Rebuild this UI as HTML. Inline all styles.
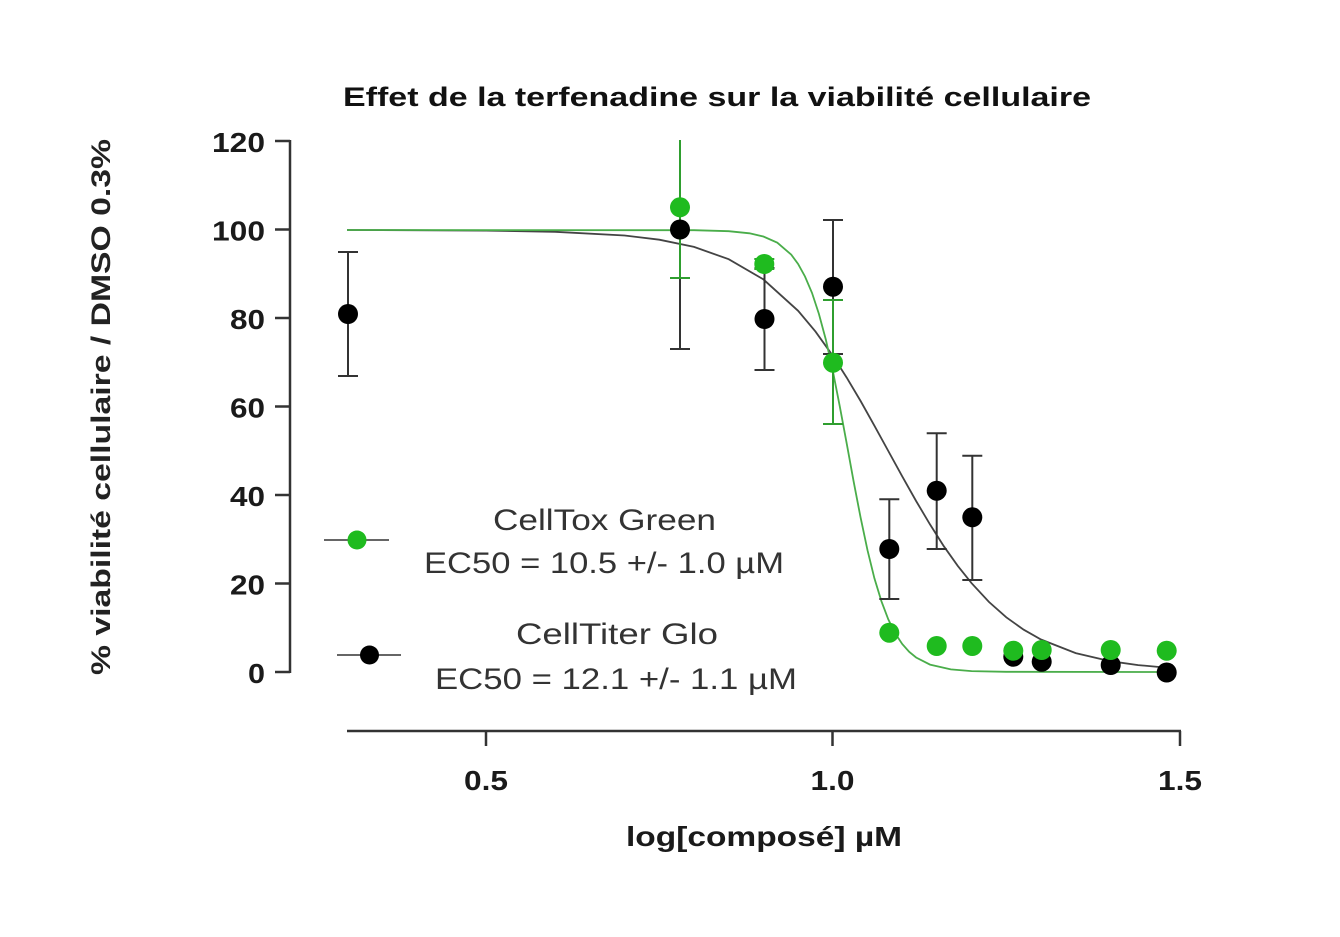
<!DOCTYPE html>
<html>
<head>
<meta charset="utf-8">
<style>
html,body{margin:0;padding:0;background:#fff;}
svg{display:block;}
text{font-family:"Liberation Sans",sans-serif;}
</style>
</head>
<body>
<svg width="1340" height="937" viewBox="0 0 1340 937" xmlns="http://www.w3.org/2000/svg">
<rect width="1340" height="937" fill="#fff"/>

<!-- Title -->
<text x="717" y="106" font-size="27" font-weight="bold" fill="#111" text-anchor="middle" textLength="748" lengthAdjust="spacingAndGlyphs">Effet de la terfenadine sur la viabilité cellulaire</text>

<!-- Y axis label -->
<text transform="translate(110,407) rotate(-90)" x="0" y="0" font-size="27" font-weight="bold" fill="#222" text-anchor="middle" textLength="536" lengthAdjust="spacingAndGlyphs">% viabilité cellulaire / DMSO 0.3%</text>

<!-- Y axis -->
<g stroke="#333" stroke-width="2.5" fill="none">
<line x1="290" y1="140" x2="290" y2="673"/>
<line x1="275" y1="141" x2="290" y2="141"/>
<line x1="275" y1="229.5" x2="290" y2="229.5"/>
<line x1="275" y1="318" x2="290" y2="318"/>
<line x1="275" y1="406.5" x2="290" y2="406.5"/>
<line x1="275" y1="495" x2="290" y2="495"/>
<line x1="275" y1="583.5" x2="290" y2="583.5"/>
<line x1="275" y1="672" x2="290" y2="672"/>
</g>
<g font-size="28" font-weight="bold" fill="#1a1a1a" text-anchor="end">
<text x="265" y="152" textLength="53" lengthAdjust="spacingAndGlyphs">120</text>
<text x="265" y="240.5" textLength="53" lengthAdjust="spacingAndGlyphs">100</text>
<text x="265" y="329" textLength="35" lengthAdjust="spacingAndGlyphs">80</text>
<text x="265" y="417.5" textLength="35" lengthAdjust="spacingAndGlyphs">60</text>
<text x="265" y="506" textLength="35" lengthAdjust="spacingAndGlyphs">40</text>
<text x="265" y="594.5" textLength="35" lengthAdjust="spacingAndGlyphs">20</text>
<text x="265" y="683" textLength="17" lengthAdjust="spacingAndGlyphs">0</text>
</g>

<!-- X axis -->
<g stroke="#333" stroke-width="2.5" fill="none">
<line x1="347" y1="731" x2="1181" y2="731"/>
<line x1="486" y1="731" x2="486" y2="746"/>
<line x1="832.5" y1="731" x2="832.5" y2="746"/>
<line x1="1180" y1="731" x2="1180" y2="746"/>
</g>
<g font-size="28" font-weight="bold" fill="#1a1a1a" text-anchor="middle">
<text x="486" y="790" textLength="44" lengthAdjust="spacingAndGlyphs">0.5</text>
<text x="832.5" y="790" textLength="44" lengthAdjust="spacingAndGlyphs">1.0</text>
<text x="1180" y="790" textLength="44" lengthAdjust="spacingAndGlyphs">1.5</text>
</g>
<text x="764" y="846" font-size="28" font-weight="bold" fill="#1a1a1a" text-anchor="middle" textLength="276" lengthAdjust="spacingAndGlyphs">log[composé] µM</text>

<!-- Curves -->
<polyline fill="none" stroke="#444" stroke-width="1.8" points="347,230 486,230.6 555.2,231.8 624.6,235.5 659.3,239.7 694,246.9 728.7,259.2 763.4,279.4 798.1,310.8 815.5,331.6 832.8,355.8 846.7,377.6 860.6,401 874.4,425.7 888.3,451 902.2,476.3 916.1,501 930,524.4 943.8,546.2 957.7,565.8 971.6,583.2 988.9,601.9 1006.3,617.3 1023.7,629.7 1041,639.5 1075.7,653.1 1110.4,661.2 1138.2,665.1 1165.9,667.6"/>
<polyline fill="none" stroke="#4aad4a" stroke-width="1.8" points="347,230 694,230.2 728.7,231.2 749.5,233.3 763.4,236.5 777.3,242.7 791.2,254.6 798.1,264 805,276.5 812,292.9 818.9,313.9 825.9,339.9 832.8,370.8 839.7,405.9 846.7,443.4 853.6,481.3 860.6,517.6 867.5,550.2 874.4,578.3 881.4,601.2 888.3,619.4 895.3,633.5 902.2,644 909.2,651.8 916.1,657.5 930,664.6 950.8,669.4 971.6,671.1 1006.3,671.8 1165.9,672"/>

<!-- Black error bars -->
<g stroke="#333" stroke-width="2" fill="none">
<line x1="348" y1="252" x2="348" y2="376"/><line x1="338" y1="252" x2="358" y2="252"/><line x1="338" y1="376" x2="358" y2="376"/>
<line x1="680" y1="141" x2="680" y2="349"/><line x1="670" y1="349" x2="690" y2="349"/>
<line x1="764.5" y1="268" x2="764.5" y2="370"/><line x1="754.5" y1="370" x2="774.5" y2="370"/><line x1="754.5" y1="268" x2="774.5" y2="268"/>
<line x1="833" y1="220" x2="833" y2="354"/><line x1="823" y1="220" x2="843" y2="220"/><line x1="823" y1="354" x2="843" y2="354"/>
<line x1="889.3" y1="499.3" x2="889.3" y2="599"/><line x1="879.3" y1="499.3" x2="899.3" y2="499.3"/><line x1="879.3" y1="599" x2="899.3" y2="599"/>
<line x1="936.7" y1="433.3" x2="936.7" y2="549"/><line x1="926.7" y1="433.3" x2="946.7" y2="433.3"/><line x1="926.7" y1="549" x2="946.7" y2="549"/>
<line x1="972.3" y1="455.7" x2="972.3" y2="580"/><line x1="962.3" y1="455.7" x2="982.3" y2="455.7"/><line x1="962.3" y1="580" x2="982.3" y2="580"/>
</g>

<!-- Green error bars -->
<g stroke="#2f9e2f" stroke-width="2" fill="none">
<line x1="680" y1="140" x2="680" y2="278"/><line x1="670" y1="278" x2="690" y2="278"/>
<line x1="764.3" y1="259" x2="764.3" y2="269"/><line x1="754.3" y1="259" x2="774.3" y2="259"/><line x1="754.3" y1="269" x2="774.3" y2="269"/>
<line x1="833" y1="300" x2="833" y2="424"/><line x1="823" y1="300" x2="843" y2="300"/><line x1="823" y1="424" x2="843" y2="424"/>
</g>

<!-- Black points -->
<g fill="#000">
<circle cx="348" cy="314" r="10"/>
<circle cx="680" cy="229.5" r="10"/>
<circle cx="764.5" cy="319" r="10"/>
<circle cx="833" cy="286.7" r="10"/>
<circle cx="889.3" cy="549" r="10"/>
<circle cx="936.7" cy="490.7" r="10"/>
<circle cx="972.3" cy="517.3" r="10"/>
<circle cx="1013.3" cy="656.7" r="10"/>
<circle cx="1041.7" cy="661.7" r="10"/>
<circle cx="1110.7" cy="665" r="10"/>
<circle cx="1166.7" cy="672.5" r="10"/>
</g>

<!-- Green points -->
<g fill="#1fbb1f">
<circle cx="680" cy="207.3" r="10"/>
<circle cx="764.3" cy="264" r="10"/>
<circle cx="833" cy="362.7" r="10"/>
<circle cx="889.3" cy="632.7" r="10"/>
<circle cx="936.7" cy="646" r="10"/>
<circle cx="972.3" cy="646" r="10"/>
<circle cx="1013.3" cy="650.7" r="10"/>
<circle cx="1041.7" cy="650" r="10"/>
<circle cx="1110.7" cy="650" r="10"/>
<circle cx="1166.7" cy="650.7" r="10"/>
</g>

<!-- Legend -->
<line x1="324" y1="540" x2="389" y2="540" stroke="#666" stroke-width="2"/>
<circle cx="357" cy="540" r="9.5" fill="#1fbb1f"/>
<line x1="337" y1="655" x2="401" y2="655" stroke="#666" stroke-width="2"/>
<circle cx="369.5" cy="655" r="9.5" fill="#000"/>

<g font-size="30" fill="#333" text-anchor="middle">
<text x="604.5" y="530" textLength="223" lengthAdjust="spacingAndGlyphs">CellTox Green</text>
<text x="604" y="573" textLength="360" lengthAdjust="spacingAndGlyphs">EC50 = 10.5 +/- 1.0 µM</text>
<text x="617" y="644" textLength="202" lengthAdjust="spacingAndGlyphs">CellTiter Glo</text>
<text x="616" y="689" textLength="362" lengthAdjust="spacingAndGlyphs">EC50 = 12.1 +/- 1.1 µM</text>
</g>
</svg>
</body>
</html>
